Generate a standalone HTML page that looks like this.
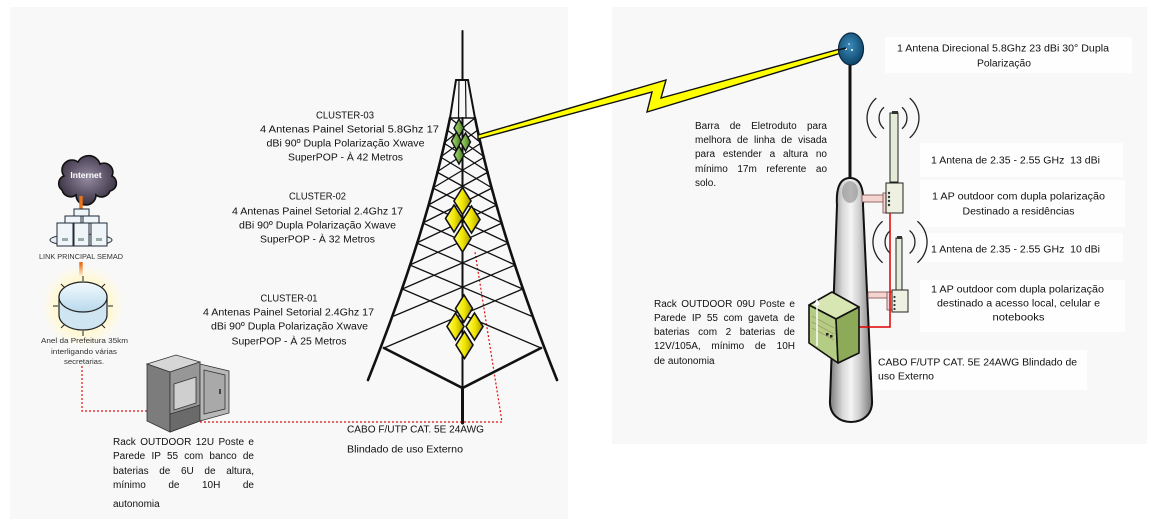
<!DOCTYPE html>
<html><head><meta charset="utf-8"><style>
html,body{margin:0;padding:0;background:#fff;}
#wrap{position:relative;width:1159px;height:527px;overflow:hidden;}
svg{display:block;position:absolute;left:0;top:0;}
text{font-family:"Liberation Sans",Arial,sans-serif;fill:#111;}
.j{position:absolute;font-family:"Liberation Sans",Arial,sans-serif;font-size:10px;line-height:10px;color:#111;text-align:justify;text-align-last:justify;}
.l{position:absolute;font-family:"Liberation Sans",Arial,sans-serif;font-size:10px;line-height:10px;color:#111;white-space:nowrap;}
</style></head><body>
<div id="wrap">
<svg width="1159" height="527" viewBox="0 0 1159 527" xmlns="http://www.w3.org/2000/svg">
<defs>
<linearGradient id="yel" x1="0" y1="0" x2="1" y2="0"><stop offset="0" stop-color="#ffff70"/><stop offset="0.5" stop-color="#f2e600"/><stop offset="1" stop-color="#a89a00"/></linearGradient>
<linearGradient id="grn" x1="0" y1="0" x2="1" y2="0"><stop offset="0" stop-color="#a8d878"/><stop offset="0.5" stop-color="#78b048"/><stop offset="1" stop-color="#3f7020"/></linearGradient>
<linearGradient id="pole" x1="0" y1="0" x2="1" y2="0"><stop offset="0" stop-color="#7a7a7a"/><stop offset="0.3" stop-color="#d8d8d8"/><stop offset="0.5" stop-color="#f4f4f4"/><stop offset="0.7" stop-color="#cfcfcf"/><stop offset="1" stop-color="#777"/></linearGradient>
<radialGradient id="dish" cx="0.45" cy="0.4" r="0.6"><stop offset="0" stop-color="#3b8cbc"/><stop offset="1" stop-color="#0e4468"/></radialGradient>
<radialGradient id="cloud" cx="0.5" cy="0.45" r="0.6"><stop offset="0" stop-color="#958ca2"/><stop offset="0.6" stop-color="#5a5064"/><stop offset="1" stop-color="#2e2834"/></radialGradient>
<radialGradient id="glow" cx="0.5" cy="0.5" r="0.5"><stop offset="0" stop-color="#fff6c0"/><stop offset="0.7" stop-color="#fff8d8"/><stop offset="1" stop-color="#fffbe6" stop-opacity="0"/></radialGradient>
<linearGradient id="disk" x1="0" y1="0" x2="0" y2="1"><stop offset="0" stop-color="#f2fafe"/><stop offset="1" stop-color="#b9d9ec"/></linearGradient>
</defs>

<!-- background panels -->
<rect x="10" y="7" width="558" height="512" fill="#f8f8f8"/>
<rect x="612" y="7" width="535" height="437" fill="#f8f8f8"/>
<rect x="885" y="37" width="247" height="36" fill="#fefefe"/>
<rect x="920" y="143" width="203" height="34" fill="#fefefe"/>
<rect x="920" y="180" width="205" height="47" fill="#fefefe"/>
<rect x="920" y="233" width="203" height="29" fill="#fefefe"/>
<rect x="920" y="280" width="205" height="52" fill="#fefefe"/>
<rect x="872" y="350" width="215" height="40" fill="#fefefe"/>

<!-- ========== LEFT: Internet / link / anel ========== -->
<path d="M62,190 a8,8 0 0,1 2,-14 a10,10 0 0,1 14,-14 a12,12 0 0,1 22,2 a9,9 0 0,1 12,12 a8,8 0 0,1 -2,15 a9,9 0 0,1 -14,4 a10,10 0 0,1 -20,0 a9,9 0 0,1 -14,-5 z" fill="url(#cloud)" stroke="#111" stroke-width="1.6"/>
<text x="86" y="178" font-size="8.5" font-weight="bold" text-anchor="middle" style="fill:#fff">Internet</text>
<line x1="81" y1="196" x2="81" y2="209" stroke="#e8731e" stroke-width="3.5"/>
<ellipse cx="81" cy="240" rx="31" ry="6" fill="#e4ecf4" stroke="#333" stroke-width="1"/>
<g fill="#f0f5fa" stroke="#1e2a38" stroke-width="1">
<rect x="74" y="209" width="15" height="7"/>
<rect x="65" y="216" width="16" height="7"/>
<rect x="83" y="216" width="16" height="7"/>
<rect x="57" y="223" width="16" height="23"/>
<rect x="74" y="223" width="15" height="23"/>
<rect x="91" y="223" width="16" height="23"/>
</g>
<g fill="#9aa" stroke="none">
<rect x="62" y="238" width="6" height="3"/><rect x="78" y="238" width="6" height="3"/><rect x="96" y="238" width="6" height="3"/>
</g>
<text x="81" y="259" font-size="7.5" text-anchor="middle" textLength="84" lengthAdjust="spacingAndGlyphs" style="fill:#333">LINK PRINCIPAL SEMAD</text>
<line x1="81" y1="262" x2="81" y2="278" stroke="#e8731e" stroke-width="3.5"/>
<circle cx="83" cy="306" r="42" fill="url(#glow)"/>
<g stroke="#222" stroke-width="1">
<line x1="83" y1="276" x2="83" y2="281"/><line x1="83" y1="331" x2="83" y2="336"/>
<line x1="53" y1="306" x2="58" y2="306"/><line x1="108" y1="306" x2="113" y2="306"/>
<line x1="61" y1="284" x2="65" y2="288"/><line x1="105" y1="284" x2="101" y2="288"/>
<line x1="61" y1="328" x2="65" y2="324"/><line x1="105" y1="328" x2="101" y2="324"/>
</g>
<path d="M59,297 L59,315 A24,15 0 0,0 107,315 L107,297 Z" fill="#cfe5f2" stroke="#222" stroke-width="1.2"/>
<ellipse cx="83" cy="297" rx="24" ry="15" fill="url(#disk)" stroke="#222" stroke-width="1.2"/>
<text x="84.5" y="343" font-size="7.5" text-anchor="middle" textLength="87" lengthAdjust="spacingAndGlyphs" style="fill:#333">Anel da Prefeitura 35km</text>
<text x="84" y="354" font-size="7.5" text-anchor="middle" textLength="66" lengthAdjust="spacingAndGlyphs" style="fill:#333">interligando várias</text>
<text x="84" y="364" font-size="7.5" text-anchor="middle" textLength="40" lengthAdjust="spacingAndGlyphs" style="fill:#333">secretarias.</text>

<polyline points="82,366 82,411 148,411" fill="none" stroke="#e01010" stroke-width="1.2" stroke-dasharray="2,2"/>
<polyline points="200,422 502,422 475,252" fill="none" stroke="#e01010" stroke-width="1.2" stroke-dasharray="2,2"/>

<!-- left cabinet -->
<g stroke="#333" stroke-width="0.8">
<polygon points="147,364 176,355 200,362 170,372" fill="#d6d6d6"/>
<polygon points="147,364 170,372 170,432 147,421" fill="#7c7c7c"/>
<polygon points="170,372 200,362 200,421 170,432" fill="#979797"/>
<polygon points="174,384 196,377 196,403 174,410" fill="#cfcfcf"/>
<polygon points="170,414 200,405 200,421 170,432" fill="#6a6a6a"/>
<polygon points="200,364 229,371 229,413 200,421" fill="#b8b8b8"/>
<polygon points="204,370 225,375 225,409 204,414" fill="#a9a9a9"/>
</g>
<rect x="219" y="389" width="2" height="5" fill="#444"/>

<!-- ========== TOWER ========== -->
<g stroke="#111" fill="none" stroke-linecap="round">
<line x1="462.5" y1="31" x2="462.5" y2="80" stroke-width="2"/>
<line x1="456" y1="80" x2="468" y2="80" stroke-width="2"/>
<line x1="456" y1="80" x2="450" y2="118" stroke-width="2"/>
<line x1="468" y1="80" x2="475" y2="118" stroke-width="2"/>
<line x1="459" y1="80" x2="458.5" y2="118" stroke-width="1.2"/>
<line x1="465.5" y1="80" x2="466" y2="118" stroke-width="1.2"/>
<line x1="450" y1="118" x2="475" y2="118" stroke-width="1.6"/>
<path d="M450,118 Q427,232 368,380" stroke-width="2.6"/>
<path d="M475,118 Q498,232 557,380" stroke-width="2.6"/>
<g stroke-width="1.3">
<line x1="450" y1="118" x2="481.1" y2="143"/><line x1="475" y1="118" x2="443.9" y2="143"/>
<line x1="447.1" y1="130" x2="484.5" y2="157"/><line x1="477.9" y1="130" x2="440.5" y2="157"/>
<line x1="443.9" y1="143" x2="488.2" y2="172"/><line x1="481.1" y1="143" x2="436.8" y2="172"/>
<line x1="440.5" y1="157" x2="492.1" y2="188"/><line x1="484.5" y1="157" x2="432.9" y2="188"/>
<line x1="436.8" y1="172" x2="496.6" y2="205"/><line x1="488.2" y1="172" x2="428.4" y2="205"/>
<line x1="432.9" y1="188" x2="502.2" y2="223"/><line x1="492.1" y1="188" x2="422.8" y2="223"/>
<line x1="428.4" y1="205" x2="508.4" y2="243"/><line x1="496.6" y1="205" x2="416.6" y2="243"/>
<line x1="422.8" y1="223" x2="515.2" y2="265"/><line x1="502.2" y1="223" x2="409.8" y2="265"/>
<line x1="416.6" y1="243" x2="522.7" y2="289"/><line x1="508.4" y1="243" x2="402.3" y2="289"/>
<line x1="409.8" y1="265" x2="531.1" y2="316"/><line x1="515.2" y1="265" x2="393.9" y2="316"/>
<line x1="402.3" y1="289" x2="541" y2="348"/><line x1="522.7" y1="289" x2="384" y2="348"/>
</g>
<line x1="462.5" y1="118" x2="462.5" y2="388" stroke-width="2"/>
<line x1="462.5" y1="388" x2="462.5" y2="423" stroke-width="3"/>
<polyline points="384,348 462.5,388 541,348" stroke-width="2.6"/>
</g>

<polygon points="478,135 666,80 661,98 840,49 841,53 647,112 652,92 478,139" fill="#ffff00" stroke="#111" stroke-width="1.4" stroke-linejoin="miter"/>

<g fill="url(#grn)" stroke="#111" stroke-width="1.4">
<polygon points="459,119 464,128 459,137 454,128"/>
<polygon points="456.5,132 461.5,141 456.5,150 451.5,141"/>
<polygon points="465.5,133 470.5,142 465.5,151 460.5,142"/>
<polygon points="459,146 464,155 459,164 454,155"/>
</g>
<g fill="url(#yel)" stroke="#111" stroke-width="1.6">
<polygon points="462.5,187.5 471,201 462.5,214.5 454,201"/>
<polygon points="454,205 462.5,218.5 454,232 445.5,218.5"/>
<polygon points="471.5,206 480,219.5 471.5,233 463,219.5"/>
<polygon points="462.5,225 471,238.5 462.5,252 454,238.5"/>
<polygon points="464,295 472.5,308.5 464,322 455.5,308.5"/>
<polygon points="455.5,313 464,326.5 455.5,340 447,326.5"/>
<polygon points="474.5,313 483,326.5 474.5,340 466,326.5"/>
<polygon points="464.5,331.5 473,345 464.5,358.5 456,345"/>
</g>

<g font-size="10">
<text x="345" y="118.5" text-anchor="middle" textLength="58" lengthAdjust="spacingAndGlyphs">CLUSTER-03</text>
<text x="260" y="132.5" textLength="179" lengthAdjust="spacingAndGlyphs">4 Antenas Painel Setorial 5.8Ghz 17</text>
<text x="345.5" y="146.5" text-anchor="middle" textLength="158" lengthAdjust="spacingAndGlyphs">dBi 90º Dupla Polarização Xwave</text>
<text x="345.5" y="160.5" text-anchor="middle" textLength="115" lengthAdjust="spacingAndGlyphs">SuperPOP - À 42 Metros</text>

<text x="317.5" y="199.5" text-anchor="middle" textLength="57" lengthAdjust="spacingAndGlyphs">CLUSTER-02</text>
<text x="317.5" y="214.5" text-anchor="middle" textLength="171" lengthAdjust="spacingAndGlyphs">4 Antenas Painel Setorial 2.4Ghz 17</text>
<text x="317.5" y="228.5" text-anchor="middle" textLength="157" lengthAdjust="spacingAndGlyphs">dBi 90º Dupla Polarização Xwave</text>
<text x="317.5" y="242.5" text-anchor="middle" textLength="115" lengthAdjust="spacingAndGlyphs">SuperPOP - À 32 Metros</text>

<text x="289" y="301.5" text-anchor="middle" textLength="57" lengthAdjust="spacingAndGlyphs">CLUSTER-01</text>
<text x="288.5" y="315.5" text-anchor="middle" textLength="171" lengthAdjust="spacingAndGlyphs">4 Antenas Painel Setorial 2.4Ghz 17</text>
<text x="289.5" y="329.5" text-anchor="middle" textLength="157" lengthAdjust="spacingAndGlyphs">dBi 90º Dupla Polarização Xwave</text>
<text x="289" y="344.5" text-anchor="middle" textLength="115" lengthAdjust="spacingAndGlyphs">SuperPOP - À 25 Metros</text>

<text x="347" y="432.5" textLength="137" lengthAdjust="spacingAndGlyphs">CABO F/UTP CAT. 5E 24AWG</text>
<text x="347" y="452.5" textLength="116" lengthAdjust="spacingAndGlyphs">Blindado de uso Externo</text>
</g>

<!-- ========== RIGHT SIDE ========== -->
<line x1="850" y1="62" x2="850" y2="182" stroke="#111" stroke-width="3"/>
<path d="M850,178 C839,178 836,190 837,205 L830,400 C829,415 840,422 851,422 C862,422 873,415 872,400 L863,205 C864,190 861,178 850,178 Z" fill="url(#pole)" stroke="#111" stroke-width="2"/>
<ellipse cx="850" cy="192" rx="8" ry="11" fill="#8a8a8a" opacity="0.6"/>
<ellipse cx="851" cy="49" rx="12.5" ry="16" fill="url(#dish)" stroke="#0b2840" stroke-width="1.2"/>
<g fill="#fff"><circle cx="846" cy="49" r="1"/><circle cx="852" cy="50" r="1"/><circle cx="849" cy="44" r="0.8"/></g>
<line x1="838" y1="50" x2="846" y2="48" stroke="#111" stroke-width="1.5"/>

<g fill="none" stroke="#222" stroke-width="1.3">
<path d="M884,107.3 A14,14 0 0,0 884,128.7"/><path d="M902,107.3 A14,14 0 0,1 902,128.7"/>
<path d="M876.3,98.1 A26,26 0 0,0 876.3,137.9"/><path d="M909.7,98.1 A26,26 0 0,1 909.7,137.9"/>
<path d="M890.4,230.5 A15,15 0 0,0 890.4,253.5"/><path d="M909.6,230.5 A15,15 0 0,1 909.6,253.5"/>
<path d="M882.6,221.3 A27,27 0 0,0 882.6,262.7"/><path d="M917.4,221.3 A27,27 0 0,1 917.4,262.7"/>
</g>
<rect x="890" y="113" width="8" height="69" fill="#e3ecd6" stroke="#222" stroke-width="1"/>
<rect x="892" y="111" width="6" height="3" fill="#333"/>
<rect x="896" y="238" width="6" height="52" fill="#e3ecd6" stroke="#222" stroke-width="1"/>
<rect x="897" y="236" width="5" height="3" fill="#333"/>
<g fill="#f4d4d0" stroke="#7a4a48" stroke-width="0.8">
<rect x="862" y="195" width="24" height="7"/>
<rect x="883" y="193" width="4" height="20"/>
<rect x="868" y="292" width="24" height="6"/>
<rect x="887" y="292" width="6" height="18"/>
</g>
<rect x="886" y="183" width="17" height="30" fill="#eef1e2" stroke="#222" stroke-width="1"/>
<rect x="892" y="290" width="16" height="22" fill="#eef1e2" stroke="#222" stroke-width="1"/>
<g fill="#333"><circle cx="889" cy="193" r="1.2"/><circle cx="889" cy="197" r="1.2"/><circle cx="889" cy="201" r="1.2"/><circle cx="889" cy="205" r="1.2"/>
<circle cx="894.5" cy="297" r="1.1"/><circle cx="894.5" cy="301" r="1.1"/><circle cx="894.5" cy="305" r="1.1"/><circle cx="894.5" cy="309" r="1.1"/></g>
<polyline points="890,213 890,327 858,327" fill="none" stroke="#e00000" stroke-width="1.5"/>
<g stroke="#111" stroke-width="1.6" stroke-linejoin="round">
<polygon points="809,305 832,292 859,307 836,319" fill="#d8e6b4"/>
<polygon points="809,305 836,319 838,363 809,343" fill="#b4cc84"/>
<polygon points="836,319 859,307 859,353 838,363" fill="#8daa58"/>
</g>
<g stroke="#9a8a60" stroke-width="0.6" fill="none">
<line x1="812" y1="316" x2="834" y2="328"/><line x1="812" y1="322" x2="834" y2="334"/><line x1="812" y1="328" x2="834" y2="340"/>
</g>
<line x1="817" y1="346" x2="817" y2="302" stroke="#fff" stroke-width="1.5"/>
<polygon points="814,305 817,299 820,305" fill="#fff"/>
<rect x="826" y="333" width="2.5" height="2.5" fill="#222"/><rect x="830" y="335" width="2.5" height="2.5" fill="#222"/>

<g font-size="10">
<text x="897" y="51.5" textLength="212" lengthAdjust="spacingAndGlyphs">1 Antena Direcional 5.8Ghz 23 dBi 30° Dupla</text>
<text x="1004" y="66.5" text-anchor="middle" textLength="54" lengthAdjust="spacingAndGlyphs">Polarização</text>
<text x="931" y="163.5" textLength="169" lengthAdjust="spacingAndGlyphs">1 Antena de 2.35 - 2.55 GHz &#160;13 dBi</text>
<text x="932" y="199.5" textLength="173" lengthAdjust="spacingAndGlyphs">1 AP outdoor com dupla polarização</text>
<text x="1018.5" y="214.5" text-anchor="middle" textLength="112" lengthAdjust="spacingAndGlyphs">Destinado a residências</text>
<text x="931" y="252.5" textLength="169" lengthAdjust="spacingAndGlyphs">1 Antena de 2.35 - 2.55 GHz &#160;10 dBi</text>
<text x="931" y="292.5" textLength="173" lengthAdjust="spacingAndGlyphs">1 AP outdoor com dupla polarização</text>
<text x="1018.5" y="306.5" text-anchor="middle" textLength="163" lengthAdjust="spacingAndGlyphs">destinado a acesso local, celular e</text>
<text x="1018.5" y="320.5" text-anchor="middle" textLength="52" lengthAdjust="spacingAndGlyphs">notebooks</text>
<text x="878" y="365.5" textLength="199" lengthAdjust="spacingAndGlyphs">CABO F/UTP CAT. 5E 24AWG Blindado de</text>
<text x="878" y="379.5" textLength="56" lengthAdjust="spacingAndGlyphs">uso Externo</text>
</g>
</svg>

<!-- justified paragraphs -->
<div class="j" style="left:113px;top:438px;width:141px;">Rack OUTDOOR 12U Poste e</div>
<div class="j" style="left:113px;top:452px;width:141px;">Parede IP 55 com banco de</div>
<div class="j" style="left:113px;top:467px;width:141px;">baterias de 6U de altura,</div>
<div class="j" style="left:113px;top:481px;width:141px;">mínimo de 10H de</div>
<div class="l" style="left:113px;top:500px;">autonomia</div>

<div class="j" style="left:695px;top:122px;width:132px;">Barra de Eletroduto para</div>
<div class="j" style="left:695px;top:136px;width:132px;">melhora de linha de visada</div>
<div class="j" style="left:695px;top:150px;width:132px;">para estender a altura no</div>
<div class="j" style="left:695px;top:165px;width:132px;">mínimo 17m referente ao</div>
<div class="l" style="left:695px;top:179px;">solo.</div>

<div class="j" style="left:654px;top:300px;width:141px;">Rack OUTDOOR 09U Poste e</div>
<div class="j" style="left:654px;top:314px;width:141px;">Parede IP 55 com gaveta de</div>
<div class="j" style="left:654px;top:328px;width:141px;">baterias com 2 baterias de</div>
<div class="j" style="left:654px;top:342px;width:141px;">12V/105A, mínimo de 10H</div>
<div class="l" style="left:654px;top:357px;">de autonomia</div>
</div>
</body></html>
